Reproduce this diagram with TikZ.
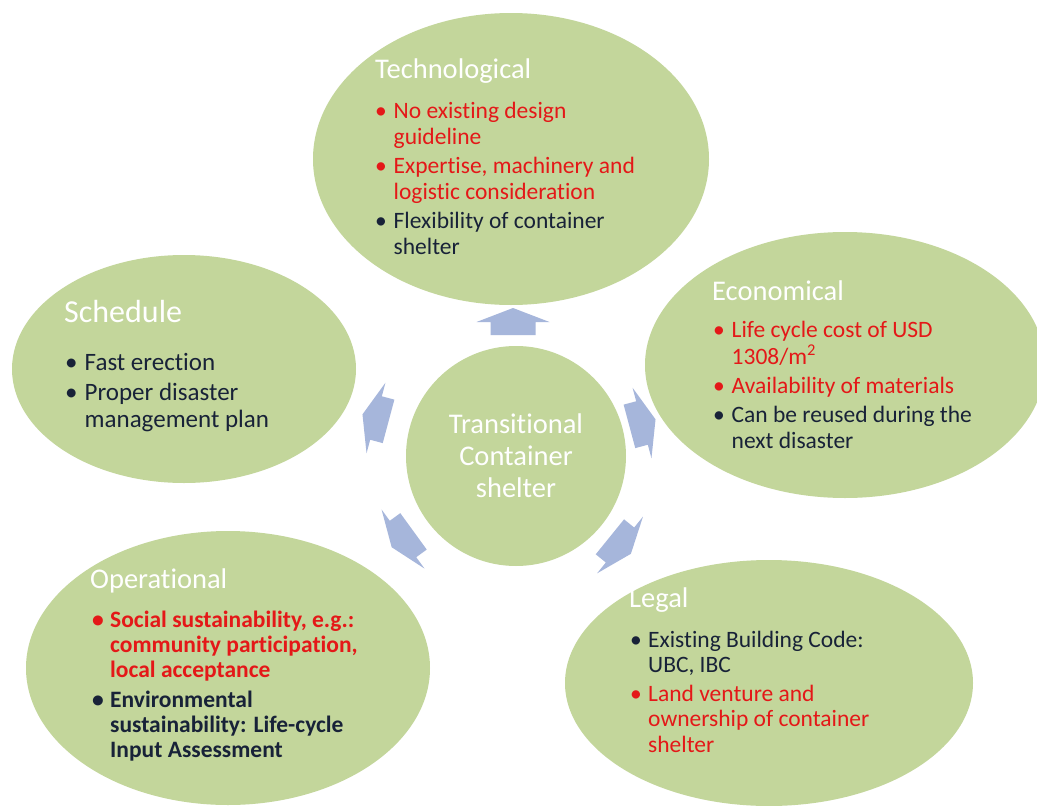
\documentclass[tikz,border=0pt]{standalone}
\usepackage{fontspec}
\setmainfont[Ligatures={NoCommon}]{Carlito}
\usepackage{array}
\usetikzlibrary{shapes.geometric}
\definecolor{bubgreen}{RGB}{195,214,155}
\definecolor{arrowblue}{RGB}{166,182,219}
\definecolor{redtxt}{RGB}{228,24,24}
\definecolor{darktxt}{RGB}{24,34,56}
\newcommand{\redb}{\textcolor{redtxt}{\textbullet}}
\newcommand{\darkb}{\textcolor{darktxt}{\textbullet}}
\newcommand{\redt}[1]{\textcolor{redtxt}{#1}}
\newcommand{\darkt}[1]{\textcolor{darktxt}{#1}}
\tikzset{
  bubble/.style={ellipse, fill=bubgreen, draw=none, inner sep=0pt},
  ttl/.style={anchor=base west, inner sep=0pt, text=white, font=\fontsize{28.5}{30}\selectfont},
  blist/.style={anchor=base west, inner sep=0pt, font=\fontsize{23.5}{26}\selectfont},
  barrow/.style={fill=arrowblue, draw=none},
}
\begin{document}
\begin{tikzpicture}[x=1pt,y=-1pt]
\useasboundingbox (0,0) rectangle (1037,806);
\clip (0,0) rectangle (1037,806);
\fill[white] (0,0) rectangle (1037,806);

% bubbles
\node[bubble, minimum width=396pt, minimum height=292pt] (tech) at (511,159) {};
\node[bubble, minimum width=344pt, minimum height=228pt] (sched) at (184,369) {};
\node[bubble, minimum width=400pt, minimum height=266pt] (econ) at (845,365) {};
\node[bubble, minimum width=404pt, minimum height=274pt] (oper) at (228,668) {};
\node[bubble, minimum width=408pt, minimum height=246pt] (legal) at (769,683) {};
\node[circle, fill=bubgreen, draw=none, inner sep=0pt, minimum size=220pt,
      align=center, text=white, font=\fontsize{28.5}{32}\selectfont] (ctr) at (516,456)
      {Transitional\\Container\\shelter};

% block arrows
\foreach \px/\py/\ang [count=\i] in {513/322/90, 376/418/165, 642/423/15, 620/545/-39, 403/539/216} {
  \fill[barrow, shift={(\px,\py)}, rotate=\ang]
    (14,0) -- (0,36.5) -- (0,22.5) -- (-13,22.5) -- (-13,-22.5) -- (0,-22.5) -- (0,-36.5) -- cycle;
}

% Technological
\node[ttl] (techt) at (375,78) {Technological};
\node[blist] (techl) at (375,118) {\begin{tabular}[t]{@{}p{18.5pt}@{}l@{}}
\redb & \redt{No existing design}\\
 & \redt{guideline}\\[3pt]
\redb & \redt{Expertise, machinery and}\\
 & \redt{logistic consideration}\\[3pt]
\darkb & \darkt{Flexibility of container}\\
 & \darkt{shelter}
\end{tabular}};

% Schedule
\node[ttl, font=\fontsize{32}{34}\selectfont] (schedt) at (64,322) {Schedule};
\node[blist, font=\fontsize{25}{27}\selectfont] (schedl) at (65,370) {\begin{tabular}[t]{@{}p{19.5pt}@{}l@{}}
\darkb & \darkt{Fast erection}\\[3pt]
\darkb & \darkt{Proper disaster}\\
 & \darkt{management plan}
\end{tabular}};

% Economical
\node[ttl] (econt) at (712,300) {Economical};
\node[blist] (econl) at (713,337) {\begin{tabular}[t]{@{}p{18.5pt}@{}l@{}}
\redb & \redt{Life cycle cost of USD}\\
 & \redt{1308/m\textsuperscript{2}}\\[3pt]
\redb & \redt{Availability of materials}\\[3pt]
\darkb & \darkt{Can be reused during the}\\
 & \darkt{next disaster}
\end{tabular}};

% Operational
\node[ttl] (opert) at (90,588) {Operational};
\node[blist, font=\fontsize{23.5}{25}\selectfont\bfseries] (operl) at (92,627) {\begin{tabular}[t]{@{}p{18pt}@{}l@{}}
\redb & \redt{Social sustainability, e.g.:}\\
 & \redt{community participation,}\\
 & \redt{local acceptance}\\[5pt]
\darkb & \darkt{Environmental}\\
 & \darkt{sustainability: Life-cycle}\\
 & \darkt{Input Assessment}
\end{tabular}};

% Legal
\node[ttl] (legalt) at (629,607) {Legal};
\node[blist, font=\fontsize{23.5}{25.5}\selectfont] (legall) at (630,647) {\begin{tabular}[t]{@{}p{18pt}@{}l@{}}
\darkb & \darkt{Existing Building Code:}\\
 & \darkt{UBC, IBC}\\[3pt]
\redb & \redt{Land venture and}\\
 & \redt{ownership of container}\\
 & \redt{shelter}
\end{tabular}};
\end{tikzpicture}
\end{document}
